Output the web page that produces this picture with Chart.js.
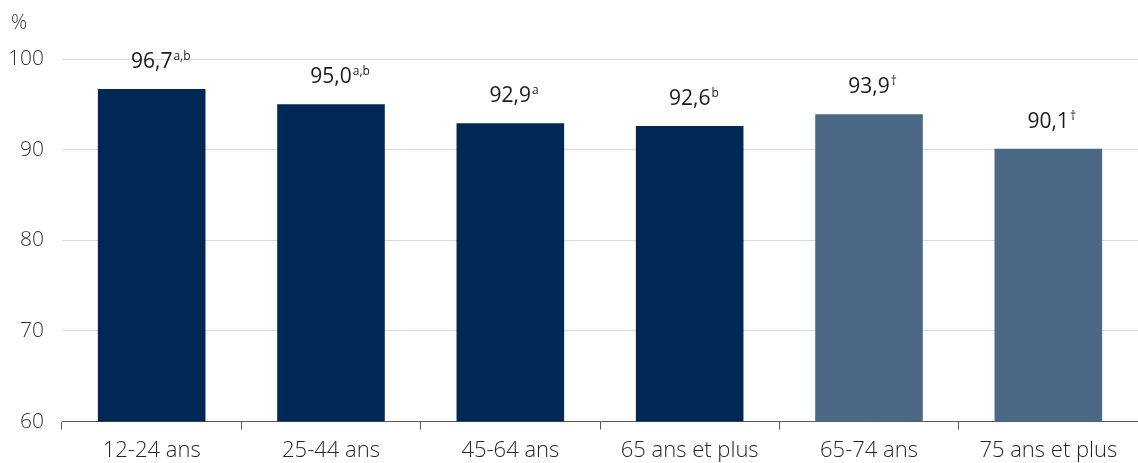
<!DOCTYPE html>
<html>
<head>
<meta charset="utf-8">
<script src="https://cdn.jsdelivr.net/npm/chart.js@4"></script>
<style>
  body { margin: 0; background: #fff; }
  #wrap { width: 1138px; height: 463px; }
</style>
</head>
<body>
<div id="wrap"><canvas id="myChart" width="1138" height="463"></canvas></div>
<script>
const categories = ['12-24 ans', '25-44 ans', '45-64 ans', '65 ans et plus', '65-74 ans', '75 ans et plus'];
const values = [96.7, 95.0, 92.9, 92.6, 93.9, 90.1];
const valueLabels = ['96,7', '95,0', '92,9', '92,6', '93,9', '90,1'];
const notes = ['a,b', 'a,b', 'a', 'b', '\u2020', '\u2020'];
const barColors = ['#002855', '#002855', '#002855', '#002855', '#4b6887', '#4b6887'];
const yTicks = [60, 70, 80, 90, 100];

const fontFamily = '"Open Sans", "Noto Sans", sans-serif';

// value labels with superscript notes, plus the "%" unit at top left
const labelPlugin = {
  id: 'labels',
  afterDatasetsDraw(chart) {
    const ctx = chart.ctx;
    const meta = chart.getDatasetMeta(0);
    ctx.save();
    ctx.fillStyle = '#1a1a1a';
    ctx.textBaseline = 'alphabetic';
    meta.data.forEach((bar, i) => {
      ctx.font = '21px ' + fontFamily;
      const w1 = ctx.measureText(valueLabels[i]).width;
      const start = bar.x - w1 / 2;
      const base = bar.y - 21;
      ctx.textAlign = 'left';
      ctx.fillText(valueLabels[i], start, base);
      ctx.font = '12px ' + fontFamily;
      ctx.fillText(notes[i], start + w1 + 1, base - 8);
    });
    ctx.font = '300 20px ' + fontFamily;
    ctx.fillStyle = '#333333';
    ctx.textAlign = 'left';
    ctx.fillText('%', 11, 29);
    ctx.restore();
  }
};

const ctx = document.getElementById('myChart').getContext('2d');
new Chart(ctx, {
  type: 'bar',
  data: {
    labels: categories,
    datasets: [{
      data: values,
      backgroundColor: barColors,
      barPercentage: 0.6,
      categoryPercentage: 1
    }]
  },
  options: {
    responsive: false,
    animation: false,
    layout: { padding: { top: 59, left: 0, right: 0, bottom: 0 } },
    plugins: {
      legend: { display: false },
      tooltip: { enabled: false }
    },
    scales: {
      x: {
        afterFit(axis) {
          axis.height -= 9;
        },
        grid: {
          offset: true,
          drawOnChartArea: false,
          drawTicks: true,
          tickLength: 8,
          color: '#595959'
        },
        border: { color: '#595959', width: 1 },
        ticks: {
          color: '#262626',
          padding: 8,
          font: { family: fontFamily, size: 22, weight: '300' }
        }
      },
      y: {
        min: 60,
        max: 100,
        afterBuildTicks(axis) {
          axis.ticks = yTicks.map(v => ({ value: v }));
        },
        afterFit(axis) {
          axis.width = 62;
        },
        grid: { color: '#d9d9d9', drawTicks: false },
        border: { display: false },
        ticks: {
          color: '#333333',
          padding: 18,
          font: { family: fontFamily, size: 21, weight: '300' }
        }
      }
    }
  },
  plugins: [labelPlugin]
});
</script>
</body>
</html>
